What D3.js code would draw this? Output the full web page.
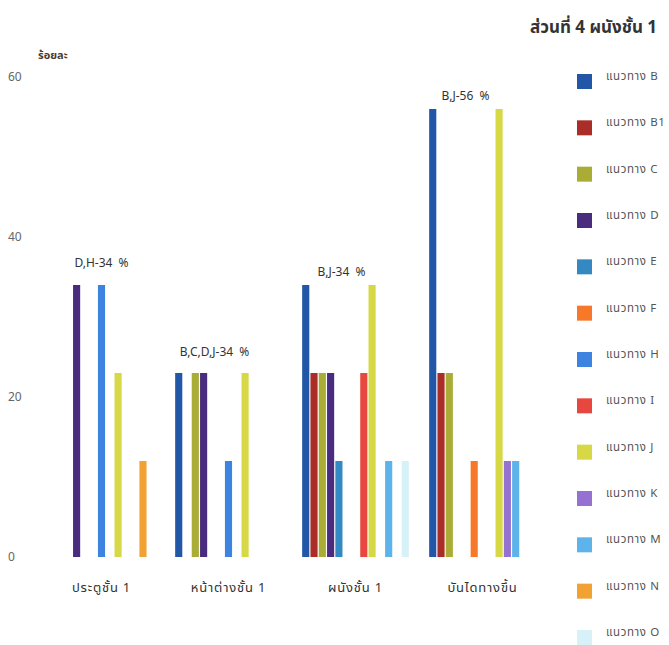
<!DOCTYPE html>
<html><head><meta charset="utf-8">
<script src="https://cdn.jsdelivr.net/npm/d3@7"></script>
<style>
body{margin:0;background:#fff;}
text{font-family:"Noto Sans Thai","Tahoma","DejaVu Sans",sans-serif;}
</style></head>
<body>
<svg id="c" width="669" height="645"></svg>
<script>
const categories = ["ประตูชั้น 1","หน้าต่างชั้น 1","ผนังชั้น 1","บันไดทางขึ้น"];
const seriesNames = ["แนวทาง B","แนวทาง B1","แนวทาง C","แนวทาง D","แนวทาง E","แนวทาง F","แนวทาง H","แนวทาง I","แนวทาง J","แนวทาง K","แนวทาง M","แนวทาง N","แนวทาง O"];
const seriesColors = ["#2256a6","#aa2d28","#a9ad36","#4a2c7e","#3489c2","#f8782a","#3d83e0","#e8473f","#d6d846","#9572d2","#5db3ea","#f1a232","#d6f2f8"];
// values per series: [ประตูชั้น 1, หน้าต่างชั้น 1, ผนังชั้น 1, บันไดทางขึ้น]
const valB  = [0, 23, 34, 56];
const valB1 = [0, 0, 23, 23];
const valC  = [0, 23, 23, 23];
const valD  = [34, 23, 23, 0];
const valE  = [0, 0, 12, 0];
const valF  = [0, 0, 0, 12];
const valH  = [34, 12, 0, 0];
const valI  = [0, 0, 23, 0];
const valJ  = [23, 23, 34, 56];
const valK  = [0, 0, 0, 12];
const valM  = [0, 0, 12, 12];
const valN  = [12, 0, 0, 0];
const valO  = [0, 0, 12, 0];
const annotations = ["D,H-34  %","B,C,D,J-34  %","B,J-34  %","B,J-56  %"];
const yTicks = [0, 20, 40, 60];
const title = "ส่วนที่ 4 ผนังชั้น 1";
const yLabel = "ร้อยละ";

const allVals = [valB,valB1,valC,valD,valE,valF,valH,valI,valJ,valK,valM,valN,valO];
const svg = d3.select("#c");

const x0 = d3.scaleBand().domain(categories).range([47, 537]).paddingInner(18/127).paddingOuter(0);
const x1 = d3.scaleBand().domain(seriesNames).range([0, x0.bandwidth()]).padding(0.14);
const y = d3.scaleLinear().domain([0, 60]).range([557, 77]);

// bars
const g = svg.append("g");
categories.forEach((cat, ci) => {
  const grp = g.append("g").attr("transform", `translate(${x0(cat)},0)`);
  const rows = seriesNames.map((s, si) => ({s, v: allVals[si][ci], c: seriesColors[si]})).filter(d => d.v > 0);
  grp.selectAll("rect").data(rows).join("rect")
    .attr("x", d => x1(d.s)).attr("width", x1.bandwidth())
    .attr("y", d => y(d.v)).attr("height", d => y(0) - y(d.v))
    .attr("fill", d => d.c);
});

// annotations
const annDx = [0, -14, -14, -17];
const annDy = [-18, -17, -9, -9];
annotations.forEach((t, ci) => {
  const mx = d3.max(allVals, a => a[ci]);
  svg.append("text").attr("x", x0(categories[ci]) + x0.bandwidth()/2 + annDx[ci])
    .attr("y", y(mx) + annDy[ci]).attr("text-anchor","middle")
    .style("white-space","pre")
    .attr("font-size", 12).attr("fill", "#333").text(t);
});

// y axis tick labels
const yAxis = d3.axisLeft(y).tickValues(yTicks).tickSize(0).tickPadding(0);
const ya = svg.append("g").attr("transform","translate(8,0)").call(yAxis);
ya.select(".domain").remove();
ya.selectAll("text").attr("text-anchor","start").attr("font-size",12).attr("fill","#666")
  .attr("font-family",'"Open Sans","DejaVu Sans",sans-serif');

// x axis labels
const xAxis = d3.axisBottom(x0).tickSize(0).tickPadding(0);
const xa = svg.append("g").attr("transform","translate(0,583)").call(xAxis);
xa.select(".domain").remove();
xa.selectAll("text").attr("font-size",13).attr("fill","#333").attr("letter-spacing", 0.8)
  .attr("font-family",'"Noto Sans Thai","Tahoma",sans-serif');

// y label
svg.append("text").attr("x", 38).attr("y", 59).attr("font-size", 11).attr("fill","#4a3a2a").attr("font-weight","bold").text(yLabel);

// title
svg.append("text").attr("x", 530).attr("y", 33).attr("font-size", 17).attr("font-weight","bold").attr("fill","#333").text(title);

// legend
const leg = svg.append("g");
const ly = d3.scalePoint().domain(seriesNames).range([81, 637]);
seriesNames.forEach((s, i) => {
  leg.append("rect").attr("x", 577).attr("y", ly(s) - 7).attr("width", 15).attr("height", 15).attr("fill", seriesColors[i]);
  leg.append("text").attr("x", 606).attr("y", ly(s) - 1).attr("font-size", 11.5).attr("letter-spacing", 0.6).attr("fill","#555").text(s);
});
</script>
</body></html>
